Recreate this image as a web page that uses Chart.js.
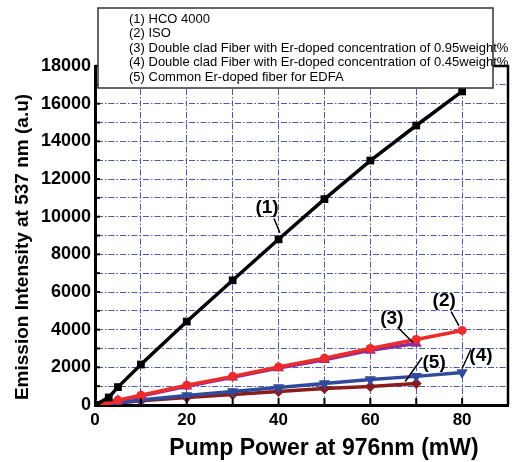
<!DOCTYPE html>
<html>
<head>
<meta charset="utf-8">
<script src="https://cdn.jsdelivr.net/npm/chart.js@4.4.3/dist/chart.umd.min.js"></script>
<style>
  body { margin: 0; background: #fff; }
  #wrap { width: 516px; height: 462px; }
</style>
</head>
<body>
<div id="wrap"><canvas id="c" width="516" height="462"></canvas></div>
<script>
// data
const hcoX = [0, 3, 5, 10, 20, 30, 40, 50, 60, 70, 80];
const hcoY = [0, 400, 950, 2150, 4430, 6620, 8800, 10930, 12980, 14840, 16650];

const isoX = [0, 2, 3, 5, 10, 20, 30, 40, 50, 60, 70, 80];
const isoY = [0, 80, 150, 260, 520, 1050, 1520, 2020, 2480, 3000, 3480, 3960];

const dc95X = [0, 2, 3, 5, 10, 20, 30, 40, 50, 60, 70];
const dc95Y = [0, 70, 130, 230, 480, 1000, 1470, 1960, 2400, 2900, 3270];

const dc45X = [0, 2, 3, 5, 10, 20, 30, 40, 50, 60, 70, 80];
const dc45Y = [0, 40, 70, 120, 260, 500, 720, 930, 1140, 1350, 1520, 1730];

const edfaX = [0, 2, 3, 5, 10, 20, 30, 40, 50, 60, 70];
const edfaY = [0, 30, 60, 100, 230, 400, 560, 720, 880, 980, 1140];

const legendLines = [
  '(1) HCO 4000',
  '(2) ISO',
  '(3) Double clad Fiber with Er-doped concentration of 0.95weight%',
  '(4) Double clad Fiber with Er-doped concentration of 0.45weight%',
  '(5) Common Er-doped fiber for EDFA'
];

// curve labels: text, label position, leader line start/end (data units)
const curveLabels = [
  { text: '(1)', at: [37.5, 10450], from: [39.0, 9900], to: [40.3, 9150] },
  { text: '(2)', at: [76.1, 5550], from: [77.6, 4960], to: [79.3, 4220] },
  { text: '(3)', at: [64.7, 4600], from: [66.0, 4120], to: [69.3, 3320] },
  { text: '(4)', at: [84.1, 2630], from: [81.9, 2950], to: [80.0, 1940] },
  { text: '(5)', at: [73.9, 2260], from: [71.3, 2520], to: [67.6, 1250] }
];

const FONT = "'Liberation Sans', Arial, sans-serif";

function pts(xs, ys) {
  return xs.map((x, i) => ({ x: x, y: ys[i] }));
}

function series(label, xs, ys, color, style, radius, rotation) {
  return {
    label: label,
    data: pts(xs, ys),
    borderColor: color,
    backgroundColor: color,
    borderWidth: 3.5,
    pointStyle: style,
    pointRadius: radius,
    pointRotation: rotation || 0,
    pointBorderWidth: 0,
    tension: 0
  };
}

// frame, inward ticks, axis titles, legend box and curve labels
const extras = {
  id: 'extras',
  afterDraw(chart) {
    const ctx = chart.ctx;
    const xs = chart.scales.x, ys = chart.scales.y;
    const a = chart.chartArea;

    ctx.save();
    ctx.strokeStyle = '#000';
    ctx.lineWidth = 2.5;
    ctx.beginPath();
    ctx.moveTo(a.left, a.top);
    ctx.lineTo(a.right, a.top);
    ctx.lineTo(a.right, a.bottom);
    ctx.stroke();

    // inward tick marks
    ctx.lineWidth = 2;
    for (let v = 0; v <= 18000; v += 1000) {
      const y = ys.getPixelForValue(v);
      ctx.beginPath();
      ctx.moveTo(a.left, y);
      ctx.lineTo(a.left + 5, y);
      ctx.stroke();
    }
    for (let v = 0; v <= 90; v += 10) {
      const x = xs.getPixelForValue(v);
      ctx.beginPath();
      ctx.moveTo(x, a.bottom);
      ctx.lineTo(x, a.bottom - 7);
      ctx.stroke();
    }

    // curve labels with leader lines
    ctx.lineWidth = 1.5;
    ctx.fillStyle = '#000';
    ctx.font = 'bold 19px ' + FONT;
    ctx.textAlign = 'center';
    ctx.textBaseline = 'middle';
    curveLabels.forEach(l => {
      ctx.beginPath();
      ctx.moveTo(xs.getPixelForValue(l.from[0]), ys.getPixelForValue(l.from[1]));
      ctx.lineTo(xs.getPixelForValue(l.to[0]), ys.getPixelForValue(l.to[1]));
      ctx.stroke();
      ctx.fillText(l.text, xs.getPixelForValue(l.at[0]), ys.getPixelForValue(l.at[1]));
    });

    // axis titles
    ctx.font = 'bold 23px ' + FONT;
    ctx.fillText('Pump Power at 976nm (mW)', 324, 449);
    ctx.save();
    ctx.translate(23, 247);
    ctx.rotate(-Math.PI / 2);
    ctx.font = 'bold 19px ' + FONT;
    ctx.fillText('Emission Intensity at 537 nm (a.u)', 0, 0);
    ctx.restore();

    // legend box
    ctx.fillStyle = '#fff';
    ctx.fillRect(98, 8, 395, 80);
    ctx.strokeStyle = '#333';
    ctx.lineWidth = 1.5;
    ctx.strokeRect(98, 8, 395, 80);
    ctx.fillStyle = '#000';
    ctx.font = '13px ' + FONT;
    ctx.textAlign = 'left';
    legendLines.forEach((t, i) => ctx.fillText(t, 129, 19 + i * 14.5));
    ctx.restore();
  }
};

new Chart(document.getElementById('c'), {
  type: 'line',
  data: {
    datasets: [
      series('(1) HCO 4000', hcoX, hcoY, '#000000', 'rect', 5.5),
      series('(2) ISO', isoX, isoY, '#ee2b2b', 'circle', 4.5),
      series('(3) 0.95weight%', dc95X, dc95Y, '#8a2d9c', 'triangle', 6.5),
      series('(4) 0.45weight%', dc45X, dc45Y, '#2f4a9c', 'triangle', 6.5, 180),
      series('(5) EDFA', edfaX, edfaY, '#8b1c1c', 'rectRot', 5.5)
    ]
  },
  options: {
    responsive: false,
    animation: false,
    layout: { padding: { left: 0, top: 66, right: 8, bottom: 0 } },
    plugins: { legend: { display: false }, tooltip: { enabled: false } },
    scales: {
      x: {
        type: 'linear',
        min: 0, max: 90,
        afterFit(s) { s.height = 57; },
        grid: { color: '#4a5aa8', lineWidth: 1, drawTicks: false },
        border: { display: true, color: '#000', width: 3, dash: [6, 2, 1.5, 2] },
        ticks: {
          stepSize: 10, padding: 5, color: '#000', autoSkip: false, maxTicksLimit: 20,
          font: { family: FONT, size: 17, weight: 'bold' },
          callback: v => (v % 20 === 0 ? v : '')
        }
      },
      y: {
        min: 0, max: 18000,
        afterFit(s) { s.width = 95; },
        grid: { color: '#4a5aa8', lineWidth: 1, drawTicks: false },
        border: { display: true, color: '#000', width: 3, dash: [6, 2, 1.5, 2] },
        ticks: {
          stepSize: 1000, padding: 4, color: '#000', autoSkip: false, maxTicksLimit: 20,
          font: { family: FONT, size: 18, weight: 'bold' },
          callback: v => (v % 2000 === 0 ? v : '')
        }
      }
    }
  },
  plugins: [extras]
});
</script>
</body>
</html>
